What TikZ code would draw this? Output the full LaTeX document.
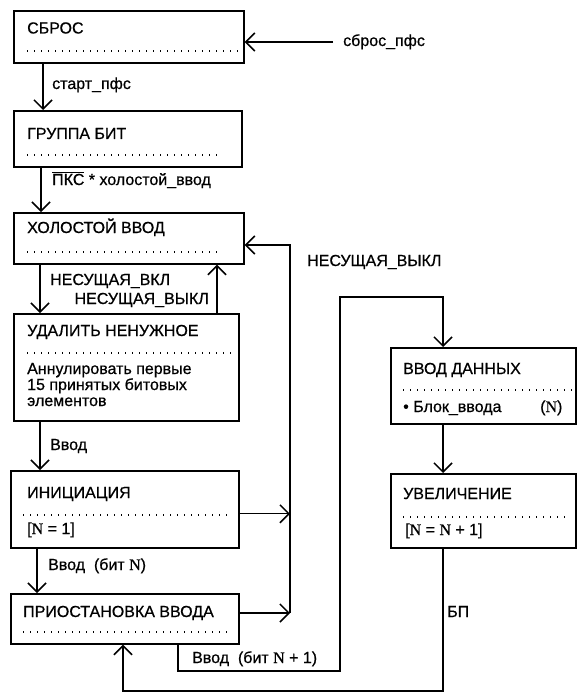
\documentclass[tikz,border=0pt]{standalone}
\usepackage{fontspec}
\setmainfont[FakeBold=0.6]{Liberation Sans}
\newfontfamily\nfont[FakeBold=0.6]{Liberation Serif}
\usetikzlibrary{arrows.meta}
\begin{document}
\begin{tikzpicture}[x=1pt,y=-1pt,
  box/.style={draw, line width=1.7pt, anchor=north west, inner sep=0pt},
  conn/.style={line width=1.2pt},
  arr/.style={conn, -{Straight Barb[length=9pt,width=18pt,line width=1.5pt]}},
  lbl/.style={anchor=base west, inner sep=0pt, font=\fontsize{16}{16}\selectfont},
  lblr/.style={lbl, anchor=base east},
  dots/.style={line width=1.3pt, dash pattern=on 1.3pt off 5.7pt}]
\useasboundingbox (0,0) rectangle (577,698);

% boxes
\node[box, minimum width=230pt, minimum height=52pt] (sbros) at (13,10) {};
\node[box, minimum width=228pt, minimum height=56pt] (gruppa) at (13,110) {};
\node[box, minimum width=230pt, minimum height=51pt] (holost) at (13,212) {};
\node[box, minimum width=225pt, minimum height=107pt] (udalit) at (13,313) {};
\node[box, minimum width=228pt, minimum height=77pt] (inic) at (10,470) {};
\node[box, minimum width=228pt, minimum height=50pt] (prios) at (10,593) {};
\node[box, minimum width=185pt, minimum height=76pt] (vvod) at (390,347) {};
\node[box, minimum width=185pt, minimum height=74pt] (uvel) at (390,473) {};

% titles
\node[lbl] (sbrosT) at (27,33.5) {СБРОС};
\node[lbl] (gruppaT) at (27,139) {ГРУППА БИТ};
\node[lbl] (holostT) at (27,233) {ХОЛОСТОЙ ВВОД};
\node[lbl] (udalitT) at (27,336) {УДАЛИТЬ НЕНУЖНОЕ};
\node[lbl] (inicT) at (27,498) {ИНИЦИАЦИЯ};
\node[lbl] (priosT) at (23,617) {ПРИОСТАНОВКА ВВОДА};
\node[lbl] (vvodT) at (403,374) {ВВОД ДАННЫХ};
\node[lbl] (uvelT) at (403,499) {УВЕЛИЧЕНИЕ};

% dotted separators
\draw[dots] (27,51) -- (238,51);
\draw[dots] (27,155) -- (222,155);
\draw[dots] (27,252) -- (222,252);
\draw[dots] (27,353) -- (236,353);
\draw[dots] (23,515) -- (230,515);
\draw[dots] (23,632) -- (230,632);
\draw[dots] (403,390) -- (577,390);
\draw[dots] (403,517) -- (570,517);

% box bodies
\node[lbl] (udalitB1) at (27,374) {Аннулировать первые};
\node[lbl] (udalitB2) at (27,390) {15 принятых битовых};
\node[lbl] (udalitB3) at (27,406) {элементов};
\node[lbl] (inicB) at (27,534) {[{\nfont N} = 1]};
\node[lbl] (vvodB) at (403,412) {• Блок\_ввода};
\node[lbl] (vvodN) at (540,412) {({\nfont N})};
\node[lbl] (uvelB) at (405,535) {[{\nfont N} = {\nfont N} + 1]};

% connector points
\coordinate (pfs) at (333,42);
\coordinate (bus) at (290,613);
\coordinate (bustop) at (290,245);
\coordinate (k1) at (178,671);
\coordinate (k2) at (340,671);
\coordinate (k3) at (340,297);
\coordinate (k4) at (443,297);
\coordinate (m1) at (443,691);
\coordinate (m2) at (123,691);

% connectors
\draw[arr] (pfs) -- (pfs -| sbros.east);
\draw[arr] ([xshift=30pt]sbros.south west) -- ([xshift=30pt]gruppa.north west);
\draw[arr] ([xshift=28pt]gruppa.south west) -- ([xshift=28pt]holost.north west);
\draw[arr] ([xshift=27pt]holost.south west) -- ([xshift=27pt]udalit.north west);
\draw[arr] ([xshift=204pt]udalit.north west) -- ([xshift=204pt]holost.south west);
\draw[arr] ([xshift=27pt]udalit.south west) -- ([xshift=30pt]inic.north west);
\draw[arr] ([xshift=27pt]inic.south west) -- ([xshift=27pt]prios.north west);
\draw[arr] ([yshift=-4.5pt]inic.east) -- ([yshift=-4.5pt]inic.east -| bus);
\draw[arr] (prios.east |- bus) -- (bus);
\draw[arr] (bus) -- (bustop) -- (bustop -| holost.east);
\draw[arr] (prios.south -| k1) -- (k1) -- (k2) -- (k3) -- (k4) -- (k4 |- vvod.north);
\draw[arr] (vvod.south -| k4) -- (k4 |- uvel.north);
\draw[arr] (uvel.south -| m1) -- (m1) -- (m2) -- (m2 |- prios.south);

% connector labels
\node[lbl] (Lpfs) at (343,46) {сброс\_пфс};
\node[lbl] (Lstart) at (52,89) {старт\_пфс};
\node[lbl] (Lpks) at (52,185) {$\overline{\hbox{ПКС}}$ * холостой\_ввод};
\node[lbl] (Lvkl) at (50,285) {НЕСУЩАЯ\_ВКЛ};
\node[lblr] (Lvykl1) at (209,304) {НЕСУЩАЯ\_ВЫКЛ};
\node[lbl] (Lvykl2) at (307,266) {НЕСУЩАЯ\_ВЫКЛ};
\node[lbl] (Lvvod) at (50,450) {Ввод};
\node[lbl] (LvvodN) at (48,570) {Ввод\ \ (бит {\nfont N})};
\node[lbl] (LvvodN1) at (192,663) {Ввод\ \ (бит {\nfont N} + 1)};
\node[lbl] (Lbp) at (447,617) {БП};
\end{tikzpicture}
\end{document}
